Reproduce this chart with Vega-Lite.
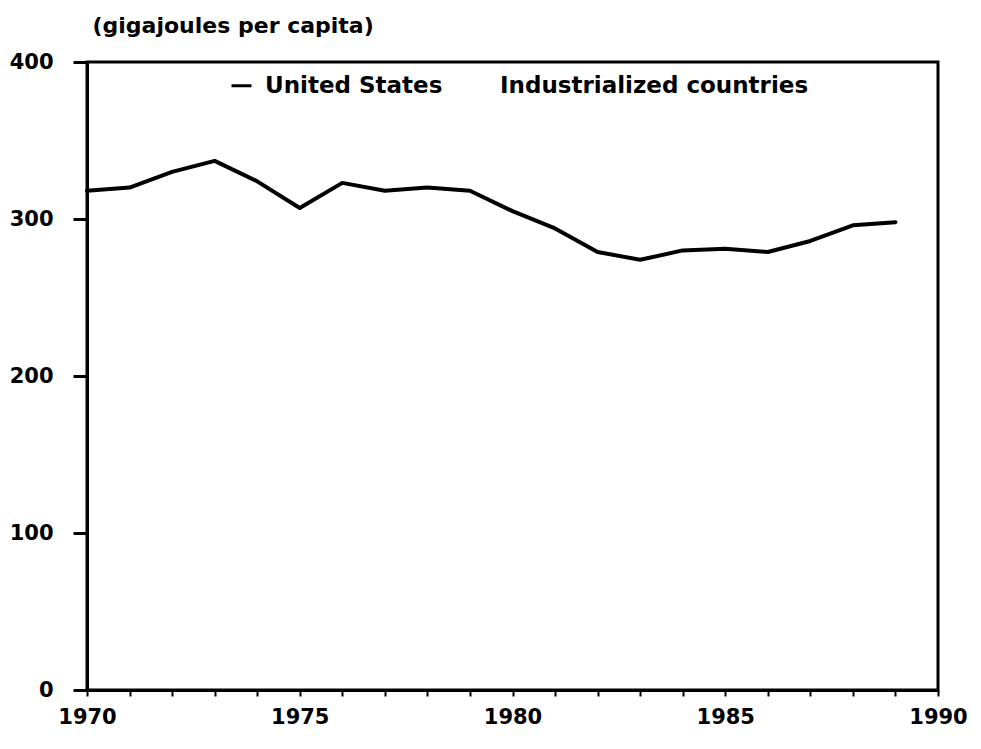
{
  "$schema": "https://vega.github.io/schema/vega-lite/v6.json",
  "autosize": "none",
  "padding": {"left": 87, "top": 62, "right": 43, "bottom": 59},
  "width": 851,
  "height": 628,
  "background": "white",
  "config": {
    "view": {"stroke": "black", "strokeWidth": 3},
    "font": "DejaVu Sans"
  },
  "data": {
    "values": [
      {"year": 1970, "value": 318, "series": "United States"},
      {"year": 1971, "value": 320, "series": "United States"},
      {"year": 1972, "value": 330, "series": "United States"},
      {"year": 1973, "value": 337, "series": "United States"},
      {"year": 1974, "value": 324, "series": "United States"},
      {"year": 1975, "value": 307, "series": "United States"},
      {"year": 1976, "value": 323, "series": "United States"},
      {"year": 1977, "value": 318, "series": "United States"},
      {"year": 1978, "value": 320, "series": "United States"},
      {"year": 1979, "value": 318, "series": "United States"},
      {"year": 1980, "value": 305, "series": "United States"},
      {"year": 1981, "value": 294, "series": "United States"},
      {"year": 1982, "value": 279, "series": "United States"},
      {"year": 1983, "value": 274, "series": "United States"},
      {"year": 1984, "value": 280, "series": "United States"},
      {"year": 1985, "value": 281, "series": "United States"},
      {"year": 1986, "value": 279, "series": "United States"},
      {"year": 1987, "value": 286, "series": "United States"},
      {"year": 1988, "value": 296, "series": "United States"},
      {"year": 1989, "value": 298, "series": "United States"}
    ]
  },
  "mark": {"type": "line", "strokeWidth": 4, "strokeJoin": "round", "strokeCap": "round"},
  "encoding": {
    "x": {
      "field": "year",
      "type": "quantitative",
      "scale": {"domain": [1970, 1990], "nice": false, "zero": false},
      "axis": {
        "title": null,
        "grid": false,
        "values": [1970,1971,1972,1973,1974,1975,1976,1977,1978,1979,1980,1981,1982,1983,1984,1985,1986,1987,1988,1989,1990],
        "labelExpr": "datum.value % 5 == 0 ? datum.label : ''",
        "format": "d",
        "domainColor": "black",
        "domainWidth": 3,
        "tickColor": "black",
        "tickWidth": 2,
        "tickSize": 6,
        "labelPadding": 10,
        "labelFont": "DejaVu Sans",
        "labelFontWeight": "bold",
        "labelFontSize": 21,
        "labelColor": "black",
        "labelFlush": false,
        "labelOverlap": false
      }
    },
    "y": {
      "field": "value",
      "type": "quantitative",
      "scale": {"domain": [0, 400], "nice": false},
      "axis": {
        "title": "(gigajoules per capita)",
        "titleAngle": 0,
        "titleAlign": "left",
        "titleBaseline": "middle",
        "titleX": 5,
        "titleY": -37,
        "titleFont": "DejaVu Sans",
        "titleFontWeight": "bold",
        "titleFontSize": 22,
        "titleColor": "black",
        "grid": false,
        "values": [0, 100, 200, 300, 400],
        "domainColor": "black",
        "domainWidth": 3,
        "tickColor": "black",
        "tickWidth": 3,
        "tickSize": 14,
        "labelPadding": 20,
        "labelFont": "DejaVu Sans",
        "labelFontWeight": "bold",
        "labelFontSize": 21,
        "labelColor": "black"
      }
    },
    "color": {
      "field": "series",
      "type": "nominal",
      "scale": {"domain": ["United States", "Industrialized countries"], "range": ["black", "white"]},
      "legend": {
        "title": null,
        "orient": "none",
        "legendX": 143,
        "legendY": 12,
        "direction": "horizontal",
        "columns": 2,
        "columnPadding": 17,
        "symbolType": "stroke",
        "symbolSize": 400,
        "symbolStrokeWidth": 3,
        "labelOffset": 12,
        "labelFont": "DejaVu Sans",
        "labelFontWeight": "bold",
        "labelFontSize": 23,
        "labelColor": "black",
        "labelLimit": 400
      }
    }
  }
}
